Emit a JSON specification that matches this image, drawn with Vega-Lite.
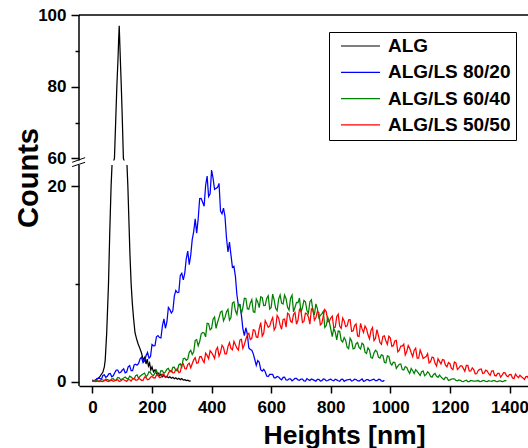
{
"$schema": "https://vega.github.io/schema/vega-lite/v6.json",
"autosize": {"type": "none"},
"padding": {"left": 79, "top": 15, "right": 0, "bottom": 62},
"width": 449,
"height": 371,
"background": "white",
"config": {"view": {"stroke": null}, "font": "Liberation Sans"},
"layer": [
{
"data": {"values": [
{"series":"ALG","nm":0,"count":0.05},{"series":"ALG","nm":10,"count":0.15},{"series":"ALG","nm":20,"count":0.35},{"series":"ALG","nm":25,"count":0.5},{"series":"ALG","nm":30,"count":0.75},{"series":"ALG","nm":35,"count":0.95},{"series":"ALG","nm":40,"count":1.5},{"series":"ALG","nm":43,"count":2.2},{"series":"ALG","nm":48,"count":5},{"series":"ALG","nm":54,"count":10},{"series":"ALG","nm":58,"count":15},{"series":"ALG","nm":62.7,"count":20},{"series":"ALG","nm":66,"count":32},{"series":"ALG","nm":70,"count":48},{"series":"ALG","nm":74,"count":60},{"series":"ALG","nm":78,"count":70},{"series":"ALG","nm":82,"count":80},{"series":"ALG","nm":86,"count":88},{"series":"ALG","nm":88,"count":93},{"series":"ALG","nm":90,"count":97},{"series":"ALG","nm":92,"count":92},{"series":"ALG","nm":94,"count":87},{"series":"ALG","nm":97,"count":80},{"series":"ALG","nm":100,"count":72},{"series":"ALG","nm":104,"count":60},{"series":"ALG","nm":108,"count":45},{"series":"ALG","nm":112,"count":33},{"series":"ALG","nm":116,"count":25},{"series":"ALG","nm":119,"count":20},{"series":"ALG","nm":123,"count":16},{"series":"ALG","nm":126,"count":13},{"series":"ALG","nm":130,"count":10},{"series":"ALG","nm":134,"count":8.0},{"series":"ALG","nm":138,"count":6.5},{"series":"ALG","nm":143,"count":5.0},{"series":"ALG","nm":148,"count":4.4},{"series":"ALG","nm":153,"count":3.9},{"series":"ALG","nm":158,"count":3.5},{"series":"ALG","nm":164,"count":3.0},{"series":"ALG","nm":171,"count":2.2},{"series":"ALG","nm":176,"count":2.5},{"series":"ALG","nm":180,"count":1.8},{"series":"ALG","nm":184,"count":2.3},{"series":"ALG","nm":188,"count":1.6},{"series":"ALG","nm":192,"count":1.9},{"series":"ALG","nm":196,"count":1.2},{"series":"ALG","nm":200,"count":1.5},{"series":"ALG","nm":205,"count":1.0},{"series":"ALG","nm":210,"count":1.2},{"series":"ALG","nm":215,"count":0.8},{"series":"ALG","nm":220,"count":0.9},{"series":"ALG","nm":225,"count":0.6},{"series":"ALG","nm":230,"count":0.75},{"series":"ALG","nm":235,"count":0.5},{"series":"ALG","nm":240,"count":0.65},{"series":"ALG","nm":245,"count":0.45},{"series":"ALG","nm":250,"count":0.55},{"series":"ALG","nm":255,"count":0.4},{"series":"ALG","nm":260,"count":0.5},{"series":"ALG","nm":265,"count":0.35},{"series":"ALG","nm":270,"count":0.45},{"series":"ALG","nm":275,"count":0.3},{"series":"ALG","nm":280,"count":0.4},{"series":"ALG","nm":285,"count":0.25},{"series":"ALG","nm":290,"count":0.35},{"series":"ALG","nm":295,"count":0.2},{"series":"ALG","nm":300,"count":0.3},{"series":"ALG","nm":305,"count":0.15},{"series":"ALG","nm":310,"count":0.2},{"series":"ALG","nm":315,"count":0.1},{"series":"ALG","nm":320,"count":0.15},{"series":"ALG","nm":325,"count":0.05},{"series":"ALG","nm":330,"count":0.08},
{"series":"ALG/LS 80/20","nm":0,"count":0.18},{"series":"ALG/LS 80/20","nm":10,"count":0.12},{"series":"ALG/LS 80/20","nm":20,"count":0.35},{"series":"ALG/LS 80/20","nm":30,"count":0.21},{"series":"ALG/LS 80/20","nm":40,"count":0.69},{"series":"ALG/LS 80/20","nm":50,"count":0.55},{"series":"ALG/LS 80/20","nm":60,"count":0.83},{"series":"ALG/LS 80/20","nm":70,"count":0.59},{"series":"ALG/LS 80/20","nm":80,"count":1.18},{"series":"ALG/LS 80/20","nm":90,"count":0.88},{"series":"ALG/LS 80/20","nm":100,"count":1.16},{"series":"ALG/LS 80/20","nm":110,"count":0.9},{"series":"ALG/LS 80/20","nm":120,"count":1.5},{"series":"ALG/LS 80/20","nm":130,"count":1.13},{"series":"ALG/LS 80/20","nm":140,"count":1.7},{"series":"ALG/LS 80/20","nm":150,"count":1.68},{"series":"ALG/LS 80/20","nm":160,"count":2.34},{"series":"ALG/LS 80/20","nm":170,"count":1.93},{"series":"ALG/LS 80/20","nm":180,"count":2.64},{"series":"ALG/LS 80/20","nm":190,"count":2.39},{"series":"ALG/LS 80/20","nm":200,"count":3.79},{"series":"ALG/LS 80/20","nm":210,"count":3.68},{"series":"ALG/LS 80/20","nm":220,"count":4.71},{"series":"ALG/LS 80/20","nm":230,"count":4.46},{"series":"ALG/LS 80/20","nm":240,"count":6.42},{"series":"ALG/LS 80/20","nm":250,"count":6.1},{"series":"ALG/LS 80/20","nm":260,"count":7.36},{"series":"ALG/LS 80/20","nm":270,"count":7.24},{"series":"ALG/LS 80/20","nm":280,"count":9.33},{"series":"ALG/LS 80/20","nm":290,"count":9.14},{"series":"ALG/LS 80/20","nm":300,"count":11.08},{"series":"ALG/LS 80/20","nm":310,"count":11.1},{"series":"ALG/LS 80/20","nm":320,"count":13.35},{"series":"ALG/LS 80/20","nm":330,"count":12.94},{"series":"ALG/LS 80/20","nm":340,"count":15.35},{"series":"ALG/LS 80/20","nm":350,"count":15.19},{"series":"ALG/LS 80/20","nm":360,"count":18.73},{"series":"ALG/LS 80/20","nm":370,"count":18.34},{"series":"ALG/LS 80/20","nm":380,"count":20.06},{"series":"ALG/LS 80/20","nm":390,"count":18.93},{"series":"ALG/LS 80/20","nm":400,"count":21.65},{"series":"ALG/LS 80/20","nm":410,"count":19.66},{"series":"ALG/LS 80/20","nm":420,"count":19.87},{"series":"ALG/LS 80/20","nm":430,"count":17.44},{"series":"ALG/LS 80/20","nm":440,"count":17.74},{"series":"ALG/LS 80/20","nm":450,"count":14.71},{"series":"ALG/LS 80/20","nm":460,"count":14.27},{"series":"ALG/LS 80/20","nm":470,"count":11.69},{"series":"ALG/LS 80/20","nm":480,"count":10.76},{"series":"ALG/LS 80/20","nm":490,"count":7.78},{"series":"ALG/LS 80/20","nm":500,"count":6.83},{"series":"ALG/LS 80/20","nm":510,"count":4.7},{"series":"ALG/LS 80/20","nm":520,"count":4.86},{"series":"ALG/LS 80/20","nm":530,"count":3.29},{"series":"ALG/LS 80/20","nm":540,"count":2.84},{"series":"ALG/LS 80/20","nm":550,"count":1.66},{"series":"ALG/LS 80/20","nm":560,"count":1.98},{"series":"ALG/LS 80/20","nm":570,"count":1.07},{"series":"ALG/LS 80/20","nm":580,"count":1.01},{"series":"ALG/LS 80/20","nm":590,"count":0.52},{"series":"ALG/LS 80/20","nm":600,"count":0.74},{"series":"ALG/LS 80/20","nm":610,"count":0.39},{"series":"ALG/LS 80/20","nm":620,"count":0.53},{"series":"ALG/LS 80/20","nm":630,"count":0.3},{"series":"ALG/LS 80/20","nm":640,"count":0.43},{"series":"ALG/LS 80/20","nm":650,"count":0.17},{"series":"ALG/LS 80/20","nm":660,"count":0.29},{"series":"ALG/LS 80/20","nm":670,"count":0.08},{"series":"ALG/LS 80/20","nm":680,"count":0.32},{"series":"ALG/LS 80/20","nm":690,"count":0.17},{"series":"ALG/LS 80/20","nm":700,"count":0.26},{"series":"ALG/LS 80/20","nm":710,"count":0.08},{"series":"ALG/LS 80/20","nm":720,"count":0.31},{"series":"ALG/LS 80/20","nm":730,"count":0.12},{"series":"ALG/LS 80/20","nm":740,"count":0.2},{"series":"ALG/LS 80/20","nm":750,"count":0.05},{"series":"ALG/LS 80/20","nm":760,"count":0.23},{"series":"ALG/LS 80/20","nm":770,"count":0.1},{"series":"ALG/LS 80/20","nm":780,"count":0.23},{"series":"ALG/LS 80/20","nm":790,"count":0.11},{"series":"ALG/LS 80/20","nm":800,"count":0.24},{"series":"ALG/LS 80/20","nm":810,"count":0.08},{"series":"ALG/LS 80/20","nm":820,"count":0.18},{"series":"ALG/LS 80/20","nm":830,"count":0.03},{"series":"ALG/LS 80/20","nm":840,"count":0.24},{"series":"ALG/LS 80/20","nm":850,"count":0.12},{"series":"ALG/LS 80/20","nm":860,"count":0.19},{"series":"ALG/LS 80/20","nm":870,"count":0.05},{"series":"ALG/LS 80/20","nm":880,"count":0.25},{"series":"ALG/LS 80/20","nm":890,"count":0.09},{"series":"ALG/LS 80/20","nm":900,"count":0.16},{"series":"ALG/LS 80/20","nm":910,"count":0.04},{"series":"ALG/LS 80/20","nm":920,"count":0.21},{"series":"ALG/LS 80/20","nm":930,"count":0.08},{"series":"ALG/LS 80/20","nm":940,"count":0.2},{"series":"ALG/LS 80/20","nm":950,"count":0.1},{"series":"ALG/LS 80/20","nm":960,"count":0.22},{"series":"ALG/LS 80/20","nm":970,"count":0.07},{"series":"ALG/LS 80/20","nm":980,"count":0.15},
{"series":"ALG/LS 80/20","nm":5,"count":0.07},{"series":"ALG/LS 80/20","nm":15,"count":0.31},{"series":"ALG/LS 80/20","nm":25,"count":0.33},{"series":"ALG/LS 80/20","nm":35,"count":0.63},{"series":"ALG/LS 80/20","nm":45,"count":0.44},{"series":"ALG/LS 80/20","nm":55,"count":0.79},{"series":"ALG/LS 80/20","nm":65,"count":0.49},{"series":"ALG/LS 80/20","nm":75,"count":0.91},{"series":"ALG/LS 80/20","nm":85,"count":1.18},{"series":"ALG/LS 80/20","nm":95,"count":0.96},{"series":"ALG/LS 80/20","nm":105,"count":1.31},{"series":"ALG/LS 80/20","nm":115,"count":0.98},{"series":"ALG/LS 80/20","nm":125,"count":1.64},{"series":"ALG/LS 80/20","nm":135,"count":1.13},{"series":"ALG/LS 80/20","nm":145,"count":1.78},{"series":"ALG/LS 80/20","nm":155,"count":1.86},{"series":"ALG/LS 80/20","nm":165,"count":2.49},{"series":"ALG/LS 80/20","nm":175,"count":2.12},{"series":"ALG/LS 80/20","nm":185,"count":2.99},{"series":"ALG/LS 80/20","nm":195,"count":2.57},{"series":"ALG/LS 80/20","nm":205,"count":3.66},{"series":"ALG/LS 80/20","nm":215,"count":4.59},{"series":"ALG/LS 80/20","nm":225,"count":4.51},{"series":"ALG/LS 80/20","nm":235,"count":5.7},{"series":"ALG/LS 80/20","nm":245,"count":5.46},{"series":"ALG/LS 80/20","nm":255,"count":7.58},{"series":"ALG/LS 80/20","nm":265,"count":7.02},{"series":"ALG/LS 80/20","nm":275,"count":8.75},{"series":"ALG/LS 80/20","nm":285,"count":9.11},{"series":"ALG/LS 80/20","nm":295,"count":10.86},{"series":"ALG/LS 80/20","nm":305,"count":10.41},{"series":"ALG/LS 80/20","nm":315,"count":12.57},{"series":"ALG/LS 80/20","nm":325,"count":11.97},{"series":"ALG/LS 80/20","nm":335,"count":14.53},{"series":"ALG/LS 80/20","nm":345,"count":16.65},{"series":"ALG/LS 80/20","nm":355,"count":16.63},{"series":"ALG/LS 80/20","nm":365,"count":18.74},{"series":"ALG/LS 80/20","nm":375,"count":17.95},{"series":"ALG/LS 80/20","nm":385,"count":21.03},{"series":"ALG/LS 80/20","nm":395,"count":19.21},{"series":"ALG/LS 80/20","nm":405,"count":20.79},{"series":"ALG/LS 80/20","nm":415,"count":19.77},{"series":"ALG/LS 80/20","nm":425,"count":20.28},{"series":"ALG/LS 80/20","nm":435,"count":17.17},{"series":"ALG/LS 80/20","nm":445,"count":16.88},{"series":"ALG/LS 80/20","nm":455,"count":13.26},{"series":"ALG/LS 80/20","nm":465,"count":12.96},{"series":"ALG/LS 80/20","nm":475,"count":11.79},{"series":"ALG/LS 80/20","nm":485,"count":8.88},{"series":"ALG/LS 80/20","nm":495,"count":7.86},{"series":"ALG/LS 80/20","nm":505,"count":5.42},{"series":"ALG/LS 80/20","nm":515,"count":5.51},{"series":"ALG/LS 80/20","nm":525,"count":3.44},{"series":"ALG/LS 80/20","nm":535,"count":3.21},{"series":"ALG/LS 80/20","nm":545,"count":2.26},{"series":"ALG/LS 80/20","nm":555,"count":2.16},{"series":"ALG/LS 80/20","nm":565,"count":1.22},{"series":"ALG/LS 80/20","nm":575,"count":1.26},{"series":"ALG/LS 80/20","nm":585,"count":0.57},{"series":"ALG/LS 80/20","nm":595,"count":0.73},{"series":"ALG/LS 80/20","nm":605,"count":0.73},{"series":"ALG/LS 80/20","nm":615,"count":0.39},{"series":"ALG/LS 80/20","nm":625,"count":0.47},{"series":"ALG/LS 80/20","nm":635,"count":0.19},{"series":"ALG/LS 80/20","nm":645,"count":0.45},{"series":"ALG/LS 80/20","nm":655,"count":0.15},{"series":"ALG/LS 80/20","nm":665,"count":0.29},{"series":"ALG/LS 80/20","nm":675,"count":0.2},{"series":"ALG/LS 80/20","nm":685,"count":0.32},{"series":"ALG/LS 80/20","nm":695,"count":0.13},{"series":"ALG/LS 80/20","nm":705,"count":0.26},{"series":"ALG/LS 80/20","nm":715,"count":0.05},{"series":"ALG/LS 80/20","nm":725,"count":0.2},{"series":"ALG/LS 80/20","nm":735,"count":0.27},{"series":"ALG/LS 80/20","nm":745,"count":0.13},{"series":"ALG/LS 80/20","nm":755,"count":0.22},{"series":"ALG/LS 80/20","nm":765,"count":0.06},{"series":"ALG/LS 80/20","nm":775,"count":0.27},{"series":"ALG/LS 80/20","nm":785,"count":0.07},{"series":"ALG/LS 80/20","nm":795,"count":0.2},{"series":"ALG/LS 80/20","nm":805,"count":0.14},{"series":"ALG/LS 80/20","nm":815,"count":0.25},{"series":"ALG/LS 80/20","nm":825,"count":0.09},{"series":"ALG/LS 80/20","nm":835,"count":0.22},{"series":"ALG/LS 80/20","nm":845,"count":0.03},{"series":"ALG/LS 80/20","nm":855,"count":0.17},{"series":"ALG/LS 80/20","nm":865,"count":0.24},{"series":"ALG/LS 80/20","nm":875,"count":0.11},{"series":"ALG/LS 80/20","nm":885,"count":0.21},{"series":"ALG/LS 80/20","nm":895,"count":0.06},{"series":"ALG/LS 80/20","nm":905,"count":0.27},{"series":"ALG/LS 80/20","nm":915,"count":0.07},{"series":"ALG/LS 80/20","nm":925,"count":0.2},{"series":"ALG/LS 80/20","nm":935,"count":0.14},{"series":"ALG/LS 80/20","nm":945,"count":0.25},{"series":"ALG/LS 80/20","nm":955,"count":0.09},{"series":"ALG/LS 80/20","nm":965,"count":0.22},{"series":"ALG/LS 80/20","nm":975,"count":0.03},
{"series":"ALG/LS 60/40","nm":0,"count":0.04},{"series":"ALG/LS 60/40","nm":10,"count":0.12},{"series":"ALG/LS 60/40","nm":20,"count":0.02},{"series":"ALG/LS 60/40","nm":30,"count":0.22},{"series":"ALG/LS 60/40","nm":40,"count":0.1},{"series":"ALG/LS 60/40","nm":50,"count":0.21},{"series":"ALG/LS 60/40","nm":60,"count":0.08},{"series":"ALG/LS 60/40","nm":70,"count":0.31},{"series":"ALG/LS 60/40","nm":80,"count":0.18},{"series":"ALG/LS 60/40","nm":90,"count":0.39},{"series":"ALG/LS 60/40","nm":100,"count":0.25},{"series":"ALG/LS 60/40","nm":110,"count":0.47},{"series":"ALG/LS 60/40","nm":120,"count":0.25},{"series":"ALG/LS 60/40","nm":130,"count":0.46},{"series":"ALG/LS 60/40","nm":140,"count":0.25},{"series":"ALG/LS 60/40","nm":150,"count":0.69},{"series":"ALG/LS 60/40","nm":160,"count":0.55},{"series":"ALG/LS 60/40","nm":170,"count":0.77},{"series":"ALG/LS 60/40","nm":180,"count":0.5},{"series":"ALG/LS 60/40","nm":190,"count":1.01},{"series":"ALG/LS 60/40","nm":200,"count":0.69},{"series":"ALG/LS 60/40","nm":210,"count":0.91},{"series":"ALG/LS 60/40","nm":220,"count":0.64},{"series":"ALG/LS 60/40","nm":230,"count":1.12},{"series":"ALG/LS 60/40","nm":240,"count":0.85},{"series":"ALG/LS 60/40","nm":250,"count":1.27},{"series":"ALG/LS 60/40","nm":260,"count":1.01},{"series":"ALG/LS 60/40","nm":270,"count":1.46},{"series":"ALG/LS 60/40","nm":280,"count":1.14},{"series":"ALG/LS 60/40","nm":290,"count":1.71},{"series":"ALG/LS 60/40","nm":300,"count":1.49},{"series":"ALG/LS 60/40","nm":310,"count":2.4},{"series":"ALG/LS 60/40","nm":320,"count":2.3},{"series":"ALG/LS 60/40","nm":330,"count":3.2},{"series":"ALG/LS 60/40","nm":340,"count":3.05},{"series":"ALG/LS 60/40","nm":350,"count":4.3},{"series":"ALG/LS 60/40","nm":360,"count":4.1},{"series":"ALG/LS 60/40","nm":370,"count":5.03},{"series":"ALG/LS 60/40","nm":380,"count":4.58},{"series":"ALG/LS 60/40","nm":390,"count":5.92},{"series":"ALG/LS 60/40","nm":400,"count":5.44},{"series":"ALG/LS 60/40","nm":410,"count":6.62},{"series":"ALG/LS 60/40","nm":420,"count":6.07},{"series":"ALG/LS 60/40","nm":430,"count":7.11},{"series":"ALG/LS 60/40","nm":440,"count":6.23},{"series":"ALG/LS 60/40","nm":450,"count":7.14},{"series":"ALG/LS 60/40","nm":460,"count":6.3},{"series":"ALG/LS 60/40","nm":470,"count":8.03},{"series":"ALG/LS 60/40","nm":480,"count":7.24},{"series":"ALG/LS 60/40","nm":490,"count":7.91},{"series":"ALG/LS 60/40","nm":500,"count":6.94},{"series":"ALG/LS 60/40","nm":510,"count":8.53},{"series":"ALG/LS 60/40","nm":520,"count":7.46},{"series":"ALG/LS 60/40","nm":530,"count":8.02},{"series":"ALG/LS 60/40","nm":540,"count":7.14},{"series":"ALG/LS 60/40","nm":550,"count":8.46},{"series":"ALG/LS 60/40","nm":560,"count":7.57},{"series":"ALG/LS 60/40","nm":570,"count":8.6},{"series":"ALG/LS 60/40","nm":580,"count":7.79},{"series":"ALG/LS 60/40","nm":590,"count":8.78},{"series":"ALG/LS 60/40","nm":600,"count":7.59},{"series":"ALG/LS 60/40","nm":610,"count":8.36},{"series":"ALG/LS 60/40","nm":620,"count":7.25},{"series":"ALG/LS 60/40","nm":630,"count":8.87},{"series":"ALG/LS 60/40","nm":640,"count":7.93},{"series":"ALG/LS 60/40","nm":650,"count":8.48},{"series":"ALG/LS 60/40","nm":660,"count":7.32},{"series":"ALG/LS 60/40","nm":670,"count":8.85},{"series":"ALG/LS 60/40","nm":680,"count":7.61},{"series":"ALG/LS 60/40","nm":690,"count":8.07},{"series":"ALG/LS 60/40","nm":700,"count":7.09},{"series":"ALG/LS 60/40","nm":710,"count":8.3},{"series":"ALG/LS 60/40","nm":720,"count":7.28},{"series":"ALG/LS 60/40","nm":730,"count":8.18},{"series":"ALG/LS 60/40","nm":740,"count":7.25},{"series":"ALG/LS 60/40","nm":750,"count":7.95},{"series":"ALG/LS 60/40","nm":760,"count":6.53},{"series":"ALG/LS 60/40","nm":770,"count":6.93},{"series":"ALG/LS 60/40","nm":780,"count":5.55},{"series":"ALG/LS 60/40","nm":790,"count":6.56},{"series":"ALG/LS 60/40","nm":800,"count":5.36},{"series":"ALG/LS 60/40","nm":810,"count":5.44},{"series":"ALG/LS 60/40","nm":820,"count":4.27},{"series":"ALG/LS 60/40","nm":830,"count":5.14},{"series":"ALG/LS 60/40","nm":840,"count":4.05},{"series":"ALG/LS 60/40","nm":850,"count":4.22},{"series":"ALG/LS 60/40","nm":860,"count":3.37},{"series":"ALG/LS 60/40","nm":870,"count":4.15},{"series":"ALG/LS 60/40","nm":880,"count":3.41},{"series":"ALG/LS 60/40","nm":890,"count":4.0},{"series":"ALG/LS 60/40","nm":900,"count":3.33},{"series":"ALG/LS 60/40","nm":910,"count":3.79},{"series":"ALG/LS 60/40","nm":920,"count":2.88},{"series":"ALG/LS 60/40","nm":930,"count":3.21},{"series":"ALG/LS 60/40","nm":940,"count":2.39},{"series":"ALG/LS 60/40","nm":950,"count":3.2},{"series":"ALG/LS 60/40","nm":960,"count":2.5},{"series":"ALG/LS 60/40","nm":970,"count":2.74},{"series":"ALG/LS 60/40","nm":980,"count":1.98},{"series":"ALG/LS 60/40","nm":990,"count":2.64},{"series":"ALG/LS 60/40","nm":1000,"count":1.88},{"series":"ALG/LS 60/40","nm":1010,"count":1.98},{"series":"ALG/LS 60/40","nm":1020,"count":1.35},{"series":"ALG/LS 60/40","nm":1030,"count":1.77},{"series":"ALG/LS 60/40","nm":1040,"count":1.23},{"series":"ALG/LS 60/40","nm":1050,"count":1.54},{"series":"ALG/LS 60/40","nm":1060,"count":1.1},{"series":"ALG/LS 60/40","nm":1070,"count":1.35},{"series":"ALG/LS 60/40","nm":1080,"count":0.82},{"series":"ALG/LS 60/40","nm":1090,"count":1.04},{"series":"ALG/LS 60/40","nm":1100,"count":0.62},{"series":"ALG/LS 60/40","nm":1110,"count":1.1},{"series":"ALG/LS 60/40","nm":1120,"count":0.73},{"series":"ALG/LS 60/40","nm":1130,"count":0.85},{"series":"ALG/LS 60/40","nm":1140,"count":0.46},{"series":"ALG/LS 60/40","nm":1150,"count":0.83},{"series":"ALG/LS 60/40","nm":1160,"count":0.43},{"series":"ALG/LS 60/40","nm":1170,"count":0.49},{"series":"ALG/LS 60/40","nm":1180,"count":0.21},{"series":"ALG/LS 60/40","nm":1190,"count":0.4},{"series":"ALG/LS 60/40","nm":1200,"count":0.18},{"series":"ALG/LS 60/40","nm":1210,"count":0.29},{"series":"ALG/LS 60/40","nm":1220,"count":0.12},{"series":"ALG/LS 60/40","nm":1230,"count":0.18},{"series":"ALG/LS 60/40","nm":1240,"count":0.03},{"series":"ALG/LS 60/40","nm":1250,"count":0.09},{"series":"ALG/LS 60/40","nm":1260,"count":0.01},{"series":"ALG/LS 60/40","nm":1270,"count":0.12},{"series":"ALG/LS 60/40","nm":1280,"count":0.04},{"series":"ALG/LS 60/40","nm":1290,"count":0.08},{"series":"ALG/LS 60/40","nm":1300,"count":0.01},{"series":"ALG/LS 60/40","nm":1310,"count":0.09},{"series":"ALG/LS 60/40","nm":1320,"count":0.02},{"series":"ALG/LS 60/40","nm":1330,"count":0.1},{"series":"ALG/LS 60/40","nm":1340,"count":0.03},{"series":"ALG/LS 60/40","nm":1350,"count":0.1},{"series":"ALG/LS 60/40","nm":1360,"count":0.01},{"series":"ALG/LS 60/40","nm":1370,"count":0.07},{"series":"ALG/LS 60/40","nm":1380,"count":0.02},{"series":"ALG/LS 60/40","nm":1390,"count":0.06},
{"series":"ALG/LS 60/40","nm":5,"count":0.03},{"series":"ALG/LS 60/40","nm":15,"count":0.14},{"series":"ALG/LS 60/40","nm":25,"count":0.01},{"series":"ALG/LS 60/40","nm":35,"count":0.16},{"series":"ALG/LS 60/40","nm":45,"count":0.26},{"series":"ALG/LS 60/40","nm":55,"count":0.15},{"series":"ALG/LS 60/40","nm":65,"count":0.28},{"series":"ALG/LS 60/40","nm":75,"count":0.12},{"series":"ALG/LS 60/40","nm":85,"count":0.42},{"series":"ALG/LS 60/40","nm":95,"count":0.18},{"series":"ALG/LS 60/40","nm":105,"count":0.38},{"series":"ALG/LS 60/40","nm":115,"count":0.33},{"series":"ALG/LS 60/40","nm":125,"count":0.55},{"series":"ALG/LS 60/40","nm":135,"count":0.33},{"series":"ALG/LS 60/40","nm":145,"count":0.6},{"series":"ALG/LS 60/40","nm":155,"count":0.33},{"series":"ALG/LS 60/40","nm":165,"count":0.67},{"series":"ALG/LS 60/40","nm":175,"count":0.87},{"series":"ALG/LS 60/40","nm":185,"count":0.65},{"series":"ALG/LS 60/40","nm":195,"count":0.91},{"series":"ALG/LS 60/40","nm":205,"count":0.61},{"series":"ALG/LS 60/40","nm":215,"count":1.16},{"series":"ALG/LS 60/40","nm":225,"count":0.72},{"series":"ALG/LS 60/40","nm":235,"count":1.1},{"series":"ALG/LS 60/40","nm":245,"count":1.0},{"series":"ALG/LS 60/40","nm":255,"count":1.35},{"series":"ALG/LS 60/40","nm":265,"count":0.99},{"series":"ALG/LS 60/40","nm":275,"count":1.48},{"series":"ALG/LS 60/40","nm":285,"count":1.11},{"series":"ALG/LS 60/40","nm":295,"count":1.83},{"series":"ALG/LS 60/40","nm":305,"count":2.34},{"series":"ALG/LS 60/40","nm":315,"count":2.17},{"series":"ALG/LS 60/40","nm":325,"count":3.0},{"series":"ALG/LS 60/40","nm":335,"count":2.77},{"series":"ALG/LS 60/40","nm":345,"count":4.22},{"series":"ALG/LS 60/40","nm":355,"count":3.67},{"series":"ALG/LS 60/40","nm":365,"count":4.86},{"series":"ALG/LS 60/40","nm":375,"count":4.98},{"series":"ALG/LS 60/40","nm":385,"count":5.97},{"series":"ALG/LS 60/40","nm":395,"count":5.3},{"series":"ALG/LS 60/40","nm":405,"count":6.39},{"series":"ALG/LS 60/40","nm":415,"count":5.45},{"series":"ALG/LS 60/40","nm":425,"count":6.55},{"series":"ALG/LS 60/40","nm":435,"count":7.22},{"series":"ALG/LS 60/40","nm":445,"count":6.57},{"series":"ALG/LS 60/40","nm":455,"count":7.4},{"series":"ALG/LS 60/40","nm":465,"count":6.56},{"series":"ALG/LS 60/40","nm":475,"count":8.16},{"series":"ALG/LS 60/40","nm":485,"count":6.88},{"series":"ALG/LS 60/40","nm":495,"count":7.88},{"series":"ALG/LS 60/40","nm":505,"count":7.57},{"series":"ALG/LS 60/40","nm":515,"count":8.5},{"series":"ALG/LS 60/40","nm":525,"count":7.41},{"series":"ALG/LS 60/40","nm":535,"count":8.38},{"series":"ALG/LS 60/40","nm":545,"count":7.09},{"series":"ALG/LS 60/40","nm":555,"count":8.15},{"series":"ALG/LS 60/40","nm":565,"count":8.68},{"series":"ALG/LS 60/40","nm":575,"count":7.78},{"series":"ALG/LS 60/40","nm":585,"count":8.51},{"series":"ALG/LS 60/40","nm":595,"count":7.42},{"series":"ALG/LS 60/40","nm":605,"count":8.95},{"series":"ALG/LS 60/40","nm":615,"count":7.5},{"series":"ALG/LS 60/40","nm":625,"count":8.44},{"series":"ALG/LS 60/40","nm":635,"count":8.02},{"series":"ALG/LS 60/40","nm":645,"count":8.85},{"series":"ALG/LS 60/40","nm":655,"count":7.6},{"series":"ALG/LS 60/40","nm":665,"count":8.51},{"series":"ALG/LS 60/40","nm":675,"count":7.13},{"series":"ALG/LS 60/40","nm":685,"count":8.1},{"series":"ALG/LS 60/40","nm":695,"count":8.55},{"series":"ALG/LS 60/40","nm":705,"count":7.58},{"series":"ALG/LS 60/40","nm":715,"count":8.17},{"series":"ALG/LS 60/40","nm":725,"count":6.99},{"series":"ALG/LS 60/40","nm":735,"count":8.37},{"series":"ALG/LS 60/40","nm":745,"count":6.83},{"series":"ALG/LS 60/40","nm":755,"count":7.47},{"series":"ALG/LS 60/40","nm":765,"count":6.77},{"series":"ALG/LS 60/40","nm":775,"count":7.19},{"series":"ALG/LS 60/40","nm":785,"count":5.73},{"series":"ALG/LS 60/40","nm":795,"count":6.13},{"series":"ALG/LS 60/40","nm":805,"count":4.61},{"series":"ALG/LS 60/40","nm":815,"count":5.08},{"series":"ALG/LS 60/40","nm":825,"count":5.17},{"series":"ALG/LS 60/40","nm":835,"count":4.21},{"series":"ALG/LS 60/40","nm":845,"count":4.51},{"series":"ALG/LS 60/40","nm":855,"count":3.52},{"series":"ALG/LS 60/40","nm":865,"count":4.44},{"series":"ALG/LS 60/40","nm":875,"count":3.34},{"series":"ALG/LS 60/40","nm":885,"count":3.88},{"series":"ALG/LS 60/40","nm":895,"count":3.49},{"series":"ALG/LS 60/40","nm":905,"count":3.93},{"series":"ALG/LS 60/40","nm":915,"count":3.01},{"series":"ALG/LS 60/40","nm":925,"count":3.45},{"series":"ALG/LS 60/40","nm":935,"count":2.46},{"series":"ALG/LS 60/40","nm":945,"count":2.93},{"series":"ALG/LS 60/40","nm":955,"count":3.07},{"series":"ALG/LS 60/40","nm":965,"count":2.41},{"series":"ALG/LS 60/40","nm":975,"count":2.67},{"series":"ALG/LS 60/40","nm":985,"count":1.92},{"series":"ALG/LS 60/40","nm":995,"count":2.57},{"series":"ALG/LS 60/40","nm":1005,"count":1.69},{"series":"ALG/LS 60/40","nm":1015,"count":1.96},{"series":"ALG/LS 60/40","nm":1025,"count":1.59},{"series":"ALG/LS 60/40","nm":1035,"count":1.81},{"series":"ALG/LS 60/40","nm":1045,"count":1.18},{"series":"ALG/LS 60/40","nm":1055,"count":1.45},{"series":"ALG/LS 60/40","nm":1065,"count":0.83},{"series":"ALG/LS 60/40","nm":1075,"count":1.11},{"series":"ALG/LS 60/40","nm":1085,"count":1.21},{"series":"ALG/LS 60/40","nm":1095,"count":0.84},{"series":"ALG/LS 60/40","nm":1105,"count":1.01},{"series":"ALG/LS 60/40","nm":1115,"count":0.6},{"series":"ALG/LS 60/40","nm":1125,"count":1.01},{"series":"ALG/LS 60/40","nm":1135,"count":0.52},{"series":"ALG/LS 60/40","nm":1145,"count":0.73},{"series":"ALG/LS 60/40","nm":1155,"count":0.54},{"series":"ALG/LS 60/40","nm":1165,"count":0.67},{"series":"ALG/LS 60/40","nm":1175,"count":0.32},{"series":"ALG/LS 60/40","nm":1185,"count":0.45},{"series":"ALG/LS 60/40","nm":1195,"count":0.12},{"series":"ALG/LS 60/40","nm":1205,"count":0.25},{"series":"ALG/LS 60/40","nm":1215,"count":0.28},{"series":"ALG/LS 60/40","nm":1225,"count":0.09},{"series":"ALG/LS 60/40","nm":1235,"count":0.13},{"series":"ALG/LS 60/40","nm":1245,"count":0.01},{"series":"ALG/LS 60/40","nm":1255,"count":0.14},{"series":"ALG/LS 60/40","nm":1265,"count":0.01},{"series":"ALG/LS 60/40","nm":1275,"count":0.08},{"series":"ALG/LS 60/40","nm":1285,"count":0.04},{"series":"ALG/LS 60/40","nm":1295,"count":0.11},{"series":"ALG/LS 60/40","nm":1305,"count":0.02},{"series":"ALG/LS 60/40","nm":1315,"count":0.09},{"series":"ALG/LS 60/40","nm":1325,"count":0.0},{"series":"ALG/LS 60/40","nm":1335,"count":0.06},{"series":"ALG/LS 60/40","nm":1345,"count":0.1},{"series":"ALG/LS 60/40","nm":1355,"count":0.03},{"series":"ALG/LS 60/40","nm":1365,"count":0.08},{"series":"ALG/LS 60/40","nm":1375,"count":0.0},{"series":"ALG/LS 60/40","nm":1385,"count":0.12},
{"series":"ALG/LS 50/50","nm":0,"count":0.03},{"series":"ALG/LS 50/50","nm":10,"count":0.0},{"series":"ALG/LS 50/50","nm":20,"count":0.08},{"series":"ALG/LS 50/50","nm":30,"count":0.01},{"series":"ALG/LS 50/50","nm":40,"count":0.11},{"series":"ALG/LS 50/50","nm":50,"count":0.04},{"series":"ALG/LS 50/50","nm":60,"count":0.15},{"series":"ALG/LS 50/50","nm":70,"count":0.03},{"series":"ALG/LS 50/50","nm":80,"count":0.13},{"series":"ALG/LS 50/50","nm":90,"count":0.01},{"series":"ALG/LS 50/50","nm":100,"count":0.22},{"series":"ALG/LS 50/50","nm":110,"count":0.11},{"series":"ALG/LS 50/50","nm":120,"count":0.21},{"series":"ALG/LS 50/50","nm":130,"count":0.06},{"series":"ALG/LS 50/50","nm":140,"count":0.33},{"series":"ALG/LS 50/50","nm":150,"count":0.15},{"series":"ALG/LS 50/50","nm":160,"count":0.27},{"series":"ALG/LS 50/50","nm":170,"count":0.12},{"series":"ALG/LS 50/50","nm":180,"count":0.41},{"series":"ALG/LS 50/50","nm":190,"count":0.25},{"series":"ALG/LS 50/50","nm":200,"count":0.52},{"series":"ALG/LS 50/50","nm":210,"count":0.37},{"series":"ALG/LS 50/50","nm":220,"count":0.68},{"series":"ALG/LS 50/50","nm":230,"count":0.43},{"series":"ALG/LS 50/50","nm":240,"count":0.73},{"series":"ALG/LS 50/50","nm":250,"count":0.47},{"series":"ALG/LS 50/50","nm":260,"count":1.1},{"series":"ALG/LS 50/50","nm":270,"count":0.89},{"series":"ALG/LS 50/50","nm":280,"count":1.24},{"series":"ALG/LS 50/50","nm":290,"count":0.92},{"series":"ALG/LS 50/50","nm":300,"count":1.72},{"series":"ALG/LS 50/50","nm":310,"count":1.34},{"series":"ALG/LS 50/50","nm":320,"count":1.73},{"series":"ALG/LS 50/50","nm":330,"count":1.41},{"series":"ALG/LS 50/50","nm":340,"count":2.22},{"series":"ALG/LS 50/50","nm":350,"count":1.87},{"series":"ALG/LS 50/50","nm":360,"count":2.53},{"series":"ALG/LS 50/50","nm":370,"count":2.2},{"series":"ALG/LS 50/50","nm":380,"count":2.9},{"series":"ALG/LS 50/50","nm":390,"count":2.34},{"series":"ALG/LS 50/50","nm":400,"count":2.96},{"series":"ALG/LS 50/50","nm":410,"count":2.36},{"series":"ALG/LS 50/50","nm":420,"count":3.5},{"series":"ALG/LS 50/50","nm":430,"count":2.99},{"series":"ALG/LS 50/50","nm":440,"count":3.49},{"series":"ALG/LS 50/50","nm":450,"count":2.84},{"series":"ALG/LS 50/50","nm":460,"count":3.99},{"series":"ALG/LS 50/50","nm":470,"count":3.26},{"series":"ALG/LS 50/50","nm":480,"count":3.77},{"series":"ALG/LS 50/50","nm":490,"count":3.24},{"series":"ALG/LS 50/50","nm":500,"count":4.33},{"series":"ALG/LS 50/50","nm":510,"count":3.78},{"series":"ALG/LS 50/50","nm":520,"count":4.76},{"series":"ALG/LS 50/50","nm":530,"count":4.3},{"series":"ALG/LS 50/50","nm":540,"count":5.31},{"series":"ALG/LS 50/50","nm":550,"count":4.57},{"series":"ALG/LS 50/50","nm":560,"count":5.42},{"series":"ALG/LS 50/50","nm":570,"count":4.66},{"series":"ALG/LS 50/50","nm":580,"count":6.23},{"series":"ALG/LS 50/50","nm":590,"count":5.55},{"series":"ALG/LS 50/50","nm":600,"count":6.19},{"series":"ALG/LS 50/50","nm":610,"count":5.28},{"series":"ALG/LS 50/50","nm":620,"count":6.78},{"series":"ALG/LS 50/50","nm":630,"count":5.78},{"series":"ALG/LS 50/50","nm":640,"count":6.36},{"series":"ALG/LS 50/50","nm":650,"count":5.58},{"series":"ALG/LS 50/50","nm":660,"count":6.89},{"series":"ALG/LS 50/50","nm":670,"count":6.04},{"series":"ALG/LS 50/50","nm":680,"count":7.07},{"series":"ALG/LS 50/50","nm":690,"count":6.3},{"series":"ALG/LS 50/50","nm":700,"count":7.26},{"series":"ALG/LS 50/50","nm":710,"count":6.16},{"series":"ALG/LS 50/50","nm":720,"count":6.95},{"series":"ALG/LS 50/50","nm":730,"count":5.87},{"series":"ALG/LS 50/50","nm":740,"count":7.45},{"series":"ALG/LS 50/50","nm":750,"count":6.53},{"series":"ALG/LS 50/50","nm":760,"count":7.06},{"series":"ALG/LS 50/50","nm":770,"count":5.94},{"series":"ALG/LS 50/50","nm":780,"count":7.37},{"series":"ALG/LS 50/50","nm":790,"count":6.13},{"series":"ALG/LS 50/50","nm":800,"count":6.51},{"series":"ALG/LS 50/50","nm":810,"count":5.53},{"series":"ALG/LS 50/50","nm":820,"count":6.63},{"series":"ALG/LS 50/50","nm":830,"count":5.66},{"series":"ALG/LS 50/50","nm":840,"count":6.5},{"series":"ALG/LS 50/50","nm":850,"count":5.62},{"series":"ALG/LS 50/50","nm":860,"count":6.31},{"series":"ALG/LS 50/50","nm":870,"count":5.15},{"series":"ALG/LS 50/50","nm":880,"count":5.73},{"series":"ALG/LS 50/50","nm":890,"count":4.66},{"series":"ALG/LS 50/50","nm":900,"count":5.96},{"series":"ALG/LS 50/50","nm":910,"count":5.03},{"series":"ALG/LS 50/50","nm":920,"count":5.42},{"series":"ALG/LS 50/50","nm":930,"count":4.37},{"series":"ALG/LS 50/50","nm":940,"count":5.52},{"series":"ALG/LS 50/50","nm":950,"count":4.42},{"series":"ALG/LS 50/50","nm":960,"count":4.7},{"series":"ALG/LS 50/50","nm":970,"count":3.81},{"series":"ALG/LS 50/50","nm":980,"count":4.68},{"series":"ALG/LS 50/50","nm":990,"count":3.81},{"series":"ALG/LS 50/50","nm":1000,"count":4.45},{"series":"ALG/LS 50/50","nm":1010,"count":3.67},{"series":"ALG/LS 50/50","nm":1020,"count":4.21},{"series":"ALG/LS 50/50","nm":1030,"count":3.22},{"series":"ALG/LS 50/50","nm":1040,"count":3.62},{"series":"ALG/LS 50/50","nm":1050,"count":2.72},{"series":"ALG/LS 50/50","nm":1060,"count":3.69},{"series":"ALG/LS 50/50","nm":1070,"count":2.95},{"series":"ALG/LS 50/50","nm":1080,"count":3.21},{"series":"ALG/LS 50/50","nm":1090,"count":2.39},{"series":"ALG/LS 50/50","nm":1100,"count":3.23},{"series":"ALG/LS 50/50","nm":1110,"count":2.37},{"series":"ALG/LS 50/50","nm":1120,"count":2.56},{"series":"ALG/LS 50/50","nm":1130,"count":1.9},{"series":"ALG/LS 50/50","nm":1140,"count":2.51},{"series":"ALG/LS 50/50","nm":1150,"count":1.87},{"series":"ALG/LS 50/50","nm":1160,"count":2.34},{"series":"ALG/LS 50/50","nm":1170,"count":1.81},{"series":"ALG/LS 50/50","nm":1180,"count":2.21},{"series":"ALG/LS 50/50","nm":1190,"count":1.52},{"series":"ALG/LS 50/50","nm":1200,"count":1.83},{"series":"ALG/LS 50/50","nm":1210,"count":1.22},{"series":"ALG/LS 50/50","nm":1220,"count":1.92},{"series":"ALG/LS 50/50","nm":1230,"count":1.41},{"series":"ALG/LS 50/50","nm":1240,"count":1.61},{"series":"ALG/LS 50/50","nm":1250,"count":1.05},{"series":"ALG/LS 50/50","nm":1260,"count":1.65},{"series":"ALG/LS 50/50","nm":1270,"count":1.09},{"series":"ALG/LS 50/50","nm":1280,"count":1.24},{"series":"ALG/LS 50/50","nm":1290,"count":0.81},{"series":"ALG/LS 50/50","nm":1300,"count":1.25},{"series":"ALG/LS 50/50","nm":1310,"count":0.84},{"series":"ALG/LS 50/50","nm":1320,"count":1.17},{"series":"ALG/LS 50/50","nm":1330,"count":0.81},{"series":"ALG/LS 50/50","nm":1340,"count":1.09},{"series":"ALG/LS 50/50","nm":1350,"count":0.63},{"series":"ALG/LS 50/50","nm":1360,"count":0.84},{"series":"ALG/LS 50/50","nm":1370,"count":0.45},{"series":"ALG/LS 50/50","nm":1380,"count":0.92},{"series":"ALG/LS 50/50","nm":1390,"count":0.59},{"series":"ALG/LS 50/50","nm":1400,"count":0.72},{"series":"ALG/LS 50/50","nm":1410,"count":0.37},{"series":"ALG/LS 50/50","nm":1420,"count":0.76},{"series":"ALG/LS 50/50","nm":1430,"count":0.4},{"series":"ALG/LS 50/50","nm":1440,"count":0.5},{"series":"ALG/LS 50/50","nm":1450,"count":0.23},{"series":"ALG/LS 50/50","nm":1460,"count":0.52},{"series":"ALG/LS 50/50","nm":1470,"count":0.28},
{"series":"ALG/LS 50/50","nm":5,"count":0.07},{"series":"ALG/LS 50/50","nm":15,"count":0.02},{"series":"ALG/LS 50/50","nm":25,"count":0.08},{"series":"ALG/LS 50/50","nm":35,"count":0.0},{"series":"ALG/LS 50/50","nm":45,"count":0.15},{"series":"ALG/LS 50/50","nm":55,"count":0.01},{"series":"ALG/LS 50/50","nm":65,"count":0.12},{"series":"ALG/LS 50/50","nm":75,"count":0.09},{"series":"ALG/LS 50/50","nm":85,"count":0.2},{"series":"ALG/LS 50/50","nm":95,"count":0.06},{"series":"ALG/LS 50/50","nm":105,"count":0.19},{"series":"ALG/LS 50/50","nm":115,"count":0.02},{"series":"ALG/LS 50/50","nm":125,"count":0.19},{"series":"ALG/LS 50/50","nm":135,"count":0.29},{"series":"ALG/LS 50/50","nm":145,"count":0.16},{"series":"ALG/LS 50/50","nm":155,"count":0.3},{"series":"ALG/LS 50/50","nm":165,"count":0.13},{"series":"ALG/LS 50/50","nm":175,"count":0.46},{"series":"ALG/LS 50/50","nm":185,"count":0.19},{"series":"ALG/LS 50/50","nm":195,"count":0.44},{"series":"ALG/LS 50/50","nm":205,"count":0.38},{"series":"ALG/LS 50/50","nm":215,"count":0.66},{"series":"ALG/LS 50/50","nm":225,"count":0.42},{"series":"ALG/LS 50/50","nm":235,"count":0.76},{"series":"ALG/LS 50/50","nm":245,"count":0.43},{"series":"ALG/LS 50/50","nm":255,"count":0.85},{"series":"ALG/LS 50/50","nm":265,"count":1.14},{"series":"ALG/LS 50/50","nm":275,"count":0.91},{"series":"ALG/LS 50/50","nm":285,"count":1.31},{"series":"ALG/LS 50/50","nm":295,"count":0.99},{"series":"ALG/LS 50/50","nm":305,"count":1.81},{"series":"ALG/LS 50/50","nm":315,"count":1.3},{"series":"ALG/LS 50/50","nm":325,"count":1.89},{"series":"ALG/LS 50/50","nm":335,"count":1.83},{"series":"ALG/LS 50/50","nm":345,"count":2.44},{"series":"ALG/LS 50/50","nm":355,"count":1.92},{"series":"ALG/LS 50/50","nm":365,"count":2.56},{"series":"ALG/LS 50/50","nm":375,"count":1.93},{"series":"ALG/LS 50/50","nm":385,"count":2.68},{"series":"ALG/LS 50/50","nm":395,"count":3.15},{"series":"ALG/LS 50/50","nm":405,"count":2.69},{"series":"ALG/LS 50/50","nm":415,"count":3.23},{"series":"ALG/LS 50/50","nm":425,"count":2.6},{"series":"ALG/LS 50/50","nm":435,"count":3.72},{"series":"ALG/LS 50/50","nm":445,"count":2.84},{"series":"ALG/LS 50/50","nm":455,"count":3.58},{"series":"ALG/LS 50/50","nm":465,"count":3.39},{"series":"ALG/LS 50/50","nm":475,"count":4.12},{"series":"ALG/LS 50/50","nm":485,"count":3.42},{"series":"ALG/LS 50/50","nm":495,"count":4.25},{"series":"ALG/LS 50/50","nm":505,"count":3.39},{"series":"ALG/LS 50/50","nm":515,"count":4.33},{"series":"ALG/LS 50/50","nm":525,"count":4.94},{"series":"ALG/LS 50/50","nm":535,"count":4.42},{"series":"ALG/LS 50/50","nm":545,"count":5.23},{"series":"ALG/LS 50/50","nm":555,"count":4.52},{"series":"ALG/LS 50/50","nm":565,"count":6.04},{"series":"ALG/LS 50/50","nm":575,"count":4.95},{"series":"ALG/LS 50/50","nm":585,"count":5.93},{"series":"ALG/LS 50/50","nm":595,"count":5.67},{"series":"ALG/LS 50/50","nm":605,"count":6.55},{"series":"ALG/LS 50/50","nm":615,"count":5.56},{"series":"ALG/LS 50/50","nm":625,"count":6.52},{"series":"ALG/LS 50/50","nm":635,"count":5.36},{"series":"ALG/LS 50/50","nm":645,"count":6.41},{"series":"ALG/LS 50/50","nm":655,"count":7.0},{"series":"ALG/LS 50/50","nm":665,"count":6.18},{"series":"ALG/LS 50/50","nm":675,"count":6.88},{"series":"ALG/LS 50/50","nm":685,"count":5.87},{"series":"ALG/LS 50/50","nm":695,"count":7.4},{"series":"ALG/LS 50/50","nm":705,"count":6.05},{"series":"ALG/LS 50/50","nm":715,"count":7.01},{"series":"ALG/LS 50/50","nm":725,"count":6.62},{"series":"ALG/LS 50/50","nm":735,"count":7.45},{"series":"ALG/LS 50/50","nm":745,"count":6.29},{"series":"ALG/LS 50/50","nm":755,"count":7.17},{"series":"ALG/LS 50/50","nm":765,"count":5.8},{"series":"ALG/LS 50/50","nm":775,"count":6.74},{"series":"ALG/LS 50/50","nm":785,"count":7.15},{"series":"ALG/LS 50/50","nm":795,"count":6.16},{"series":"ALG/LS 50/50","nm":805,"count":6.7},{"series":"ALG/LS 50/50","nm":815,"count":5.56},{"series":"ALG/LS 50/50","nm":825,"count":6.89},{"series":"ALG/LS 50/50","nm":835,"count":5.45},{"series":"ALG/LS 50/50","nm":845,"count":6.21},{"series":"ALG/LS 50/50","nm":855,"count":5.7},{"series":"ALG/LS 50/50","nm":865,"count":6.33},{"series":"ALG/LS 50/50","nm":875,"count":5.18},{"series":"ALG/LS 50/50","nm":885,"count":5.9},{"series":"ALG/LS 50/50","nm":895,"count":4.61},{"series":"ALG/LS 50/50","nm":905,"count":5.39},{"series":"ALG/LS 50/50","nm":915,"count":5.7},{"series":"ALG/LS 50/50","nm":925,"count":4.79},{"series":"ALG/LS 50/50","nm":935,"count":5.24},{"series":"ALG/LS 50/50","nm":945,"count":4.2},{"series":"ALG/LS 50/50","nm":955,"count":5.32},{"series":"ALG/LS 50/50","nm":965,"count":4.01},{"series":"ALG/LS 50/50","nm":975,"count":4.62},{"series":"ALG/LS 50/50","nm":985,"count":4.14},{"series":"ALG/LS 50/50","nm":995,"count":4.65},{"series":"ALG/LS 50/50","nm":1005,"count":3.61},{"series":"ALG/LS 50/50","nm":1015,"count":4.16},{"series":"ALG/LS 50/50","nm":1025,"count":3.04},{"series":"ALG/LS 50/50","nm":1035,"count":3.63},{"series":"ALG/LS 50/50","nm":1045,"count":3.84},{"series":"ALG/LS 50/50","nm":1055,"count":3.07},{"series":"ALG/LS 50/50","nm":1065,"count":3.4},{"series":"ALG/LS 50/50","nm":1075,"count":2.56},{"series":"ALG/LS 50/50","nm":1085,"count":3.42},{"series":"ALG/LS 50/50","nm":1095,"count":2.39},{"series":"ALG/LS 50/50","nm":1105,"count":2.85},{"series":"ALG/LS 50/50","nm":1115,"count":2.47},{"series":"ALG/LS 50/50","nm":1125,"count":2.85},{"series":"ALG/LS 50/50","nm":1135,"count":2.04},{"series":"ALG/LS 50/50","nm":1145,"count":2.44},{"series":"ALG/LS 50/50","nm":1155,"count":1.6},{"series":"ALG/LS 50/50","nm":1165,"count":2.07},{"series":"ALG/LS 50/50","nm":1175,"count":2.25},{"series":"ALG/LS 50/50","nm":1185,"count":1.69},{"series":"ALG/LS 50/50","nm":1195,"count":1.95},{"series":"ALG/LS 50/50","nm":1205,"count":1.34},{"series":"ALG/LS 50/50","nm":1215,"count":2.0},{"series":"ALG/LS 50/50","nm":1225,"count":1.25},{"series":"ALG/LS 50/50","nm":1235,"count":1.61},{"series":"ALG/LS 50/50","nm":1245,"count":1.35},{"series":"ALG/LS 50/50","nm":1255,"count":1.65},{"series":"ALG/LS 50/50","nm":1265,"count":1.08},{"series":"ALG/LS 50/50","nm":1275,"count":1.41},{"series":"ALG/LS 50/50","nm":1285,"count":0.8},{"series":"ALG/LS 50/50","nm":1295,"count":1.15},{"series":"ALG/LS 50/50","nm":1305,"count":1.29},{"series":"ALG/LS 50/50","nm":1315,"count":0.88},{"series":"ALG/LS 50/50","nm":1325,"count":1.08},{"series":"ALG/LS 50/50","nm":1335,"count":0.64},{"series":"ALG/LS 50/50","nm":1345,"count":1.12},{"series":"ALG/LS 50/50","nm":1355,"count":0.58},{"series":"ALG/LS 50/50","nm":1365,"count":0.85},{"series":"ALG/LS 50/50","nm":1375,"count":0.67},{"series":"ALG/LS 50/50","nm":1385,"count":0.89},{"series":"ALG/LS 50/50","nm":1395,"count":0.5},{"series":"ALG/LS 50/50","nm":1405,"count":0.73},{"series":"ALG/LS 50/50","nm":1415,"count":0.31},{"series":"ALG/LS 50/50","nm":1425,"count":0.56},{"series":"ALG/LS 50/50","nm":1435,"count":0.65},{"series":"ALG/LS 50/50","nm":1445,"count":0.38},{"series":"ALG/LS 50/50","nm":1455,"count":0.51},{"series":"ALG/LS 50/50","nm":1465,"count":0.23}
]},
"mark": {"type": "line", "strokeWidth": 1.25, "clip": true},
"encoding": {
 "x": {"field": "nm", "type": "quantitative", "scale": {"domain": [-45, 1462], "nice": false, "zero": false},
 "axis": {"values": [0,100,200,300,400,500,600,700,800,900,1000,1100,1200,1300,1400], "format": "d",
 "labelExpr": "datum.value % 200 === 0 ? datum.label : ''", "title": "Heights [nm]", "grid": false,
 "tickSize": 7, "tickWidth": 1.5, "domainWidth": 1.5, "domainColor": "black", "tickColor": "black",
 "labelPadding": 6, "labelFont": "Liberation Sans", "labelFontSize": 17, "labelFontWeight": "bold", "labelColor": "black",
 "labelFlush": false, "labelOverlap": false,
 "titleFont": "Liberation Sans", "titleFontSize": 26.5, "titleFontWeight": "bold", "titleColor": "black",
 "titleX": 265, "titleY": 57, "titleBaseline": "alphabetic", "titleAlign": "center"}},
 "y": {"field": "count", "type": "quantitative", "scale": {"domain": [-0.45, 22.16, 59.4, 100], "range": [371, 150, 145.5, 0], "nice": false, "zero": false},
 "axis": {"values": [0,10,20,60,70,80,90,100], "labelExpr": "datum.value % 20 === 0 ? datum.label : ''",
 "title": "Counts", "grid": false, "domain": false,
 "tickSize": {"condition": {"test": "datum.value % 20 === 0", "value": 8}, "value": 4},
 "tickWidth": 1.5, "tickColor": "black", "labelPadding": 5,
 "labelFont": "Liberation Sans", "labelFontSize": 17, "labelFontWeight": "bold", "labelColor": "black",
 "labelFlush": false, "labelOverlap": false,
 "titleFont": "Liberation Sans", "titleFontSize": 29, "titleFontWeight": "bold", "titleColor": "black",
 "titleAngle": 270, "titleX": -42, "titleY": 162.5, "titleBaseline": "alphabetic", "titleAlign": "center"}},
 "color": {"field": "series", "type": "nominal",
  "scale": {"domain": ["ALG", "ALG/LS 80/20", "ALG/LS 60/40", "ALG/LS 50/50"], "range": ["#000000", "#0000ff", "#008000", "#ff0000"]},
  "legend": {"title": null, "orient": "none", "legendX": 250, "legendY": 17, "direction": "vertical",
   "symbolType": "stroke", "symbolSize": 1521, "symbolStrokeWidth": 1.2, "symbolOffset": 6,
   "labelOffset": 7, "labelFont": "Liberation Sans", "labelFontSize": 19, "labelFontWeight": "bold", "labelColor": "black", "labelLimit": 400,
   "padding": 5, "strokeColor": "black", "fillColor": "white", "clipHeight": 18, "rowPadding": 7.3}}
}
},
{
"data": {"values": [{}]},
"mark": {"type": "rect", "fill": "white"},
"encoding": {"x": {"datum": -45, "type": "quantitative"}, "x2": {"datum": 1462}, "y": {"datum": 22.16, "type": "quantitative"}, "y2": {"datum": 59.4}}
},
{
"data": {"values": [{}]},
"mark": {"type": "rule", "color": "black", "strokeWidth": 1.5},
"encoding": {"x": {"datum": -45, "type": "quantitative"}, "y": {"datum": -0.45, "type": "quantitative"}, "y2": {"datum": 22.16}}
},
{
"data": {"values": [{}]},
"mark": {"type": "rule", "color": "black", "strokeWidth": 1.5},
"encoding": {"x": {"datum": -45, "type": "quantitative"}, "y": {"datum": 59.4, "type": "quantitative"}, "y2": {"datum": 100}}
},
{
"data": {"values": [{}]},
"mark": {"type": "rule", "color": "black", "strokeWidth": 1.5},
"encoding": {"y": {"datum": 100, "type": "quantitative"}, "x": {"datum": -45, "type": "quantitative"}, "x2": {"datum": 1462}}
},
{
"data": {"values": [{}]},
"mark": {"type": "rule", "color": "black", "strokeWidth": 1},
"encoding": {"x": {"datum": -68, "type": "quantitative"}, "x2": {"datum": -24.5}, "y": {"datum": 44.5, "type": "quantitative"}, "y2": {"datum": 60.2}}
},
{
"data": {"values": [{}]},
"mark": {"type": "rule", "color": "black", "strokeWidth": 1},
"encoding": {"x": {"datum": -68, "type": "quantitative"}, "x2": {"datum": -24.5}, "y": {"datum": 22.0, "type": "quantitative"}, "y2": {"datum": 44.5}}
}
]
}
